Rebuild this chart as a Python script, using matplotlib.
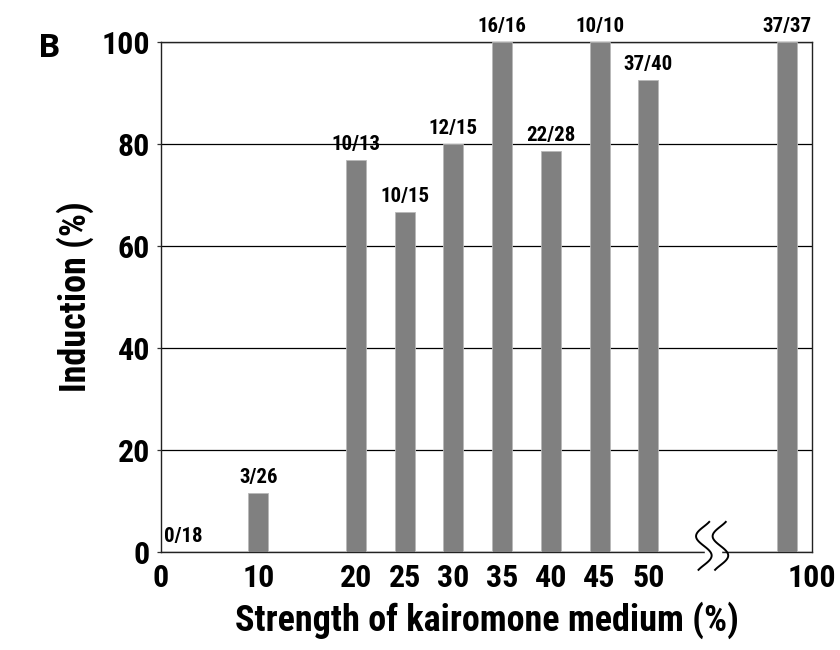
import numpy as np
import matplotlib
matplotlib.use("Agg")
import matplotlib.pyplot as plt
from matplotlib.transforms import blended_transform_factory
from matplotlib.patches import Rectangle

plt.rcParams['font.family'] = ['Roboto Condensed', 'Liberation Sans', 'DejaVu Sans']
plt.rcParams['font.weight'] = 'bold'

# kairomone strength (%) and induced / total counts
strength = [0, 10, 20, 25, 30, 35, 40, 45, 50, 100]
induced = [0, 3, 10, 10, 12, 16, 22, 10, 37, 37]
total = [18, 26, 13, 15, 15, 16, 28, 10, 40, 37]
tick_labels = ['0', '10', '20', '25', '30', '35', '40', '45', '50', '100']

# 100% sits past the axis break
pos = [s if s <= 50 else 64.2 for s in strength]
tick_pos = [s if s <= 50 else 66.8 for s in strength]
pct = [100.0 * i / t for i, t in zip(induced, total)]

fig = plt.figure(figsize=(8.4, 6.5), dpi=100)
ax = fig.add_axes([0.1917, 0.1508, 0.775, 0.7846])

ax.bar(pos, pct, width=2.05, color='#808080', edgecolor='#b8b8b8', linewidth=0.6, zorder=3)
for x, v, i, t in zip(pos, pct, induced, total):
    xt = x + 2.3 if v == 0 else x
    ax.text(xt, v + 1.2, f"{i}/{t}", ha='center', va='bottom', fontsize=15,
            fontweight='bold', clip_on=False, zorder=4)

ax.set_xlim(0, 66.8)
ax.set_ylim(0, 100)
ax.set_yticks([0, 20, 40, 60, 80, 100])
ax.set_xticks(tick_pos)
ax.set_xticklabels(tick_labels)
ax.tick_params(axis='x', length=0, labelsize=23, pad=8)
ax.tick_params(axis='y', length=3, width=0.9, labelsize=23, pad=5, color='#333333')
for lab in ax.get_xticklabels() + ax.get_yticklabels():
    lab.set_fontweight('bold')
ax.yaxis.grid(True, color='black', linewidth=0.9, zorder=0)
ax.set_axisbelow(True)
for sp in ax.spines.values():
    sp.set_linewidth(1.0)
    sp.set_color('#222222')

ax.set_xlabel('Strength of kairomone medium (%)', fontsize=26, fontweight='bold', labelpad=6)
ax.set_ylabel('Induction (%)', fontsize=26, fontweight='bold', labelpad=5)

# axis break marks
tr = blended_transform_factory(ax.transData, ax.transAxes)
ax.add_patch(Rectangle((55.8, -0.01), 1.7, 0.02, transform=tr, color='white',
                       clip_on=False, zorder=5))
t = np.linspace(-0.12, 1.12, 80)
for x0 in (55.7, 57.4):
    xs = x0 - 0.8 * np.sin(2 * np.pi * t)
    ys = 0.059 - 0.094 * (t + 0.12) / 1.24
    ax.plot(xs, ys, color='black', linewidth=1.4, transform=tr, clip_on=False, zorder=6)

fig.text(0.045, 0.925, 'B', fontsize=24, fontweight='bold', ha='left', va='center',
         family=['Open Sans', 'DejaVu Sans'])

fig.savefig('out.png', dpi=100)
